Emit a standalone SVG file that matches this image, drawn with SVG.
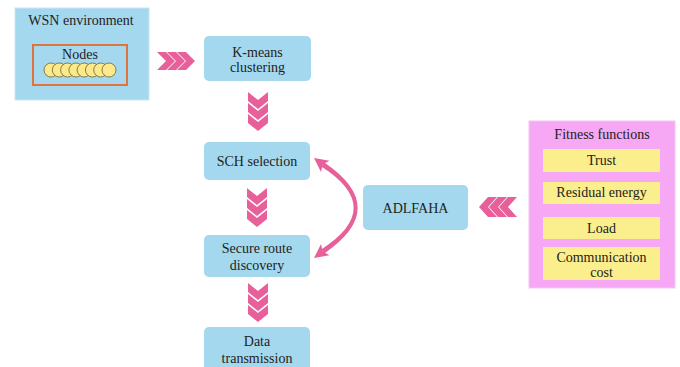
<svg xmlns="http://www.w3.org/2000/svg" width="680" height="367" viewBox="0 0 680 367">
<defs>
<style>
.t{font-family:"Liberation Serif","Times New Roman",serif;font-size:14px;fill:#222;text-anchor:middle}
.blue{fill:#A4D8EE}
.pink{fill:#E8609A}
.yel{fill:#FBEE8C}
.dot{fill:#FBE98A;stroke:#6E6234;stroke-width:0.8}
</style>
<polygon id="chevR" points="0,0 9,0 18,9 9,18 0,18 9,9"/>
<polygon id="chevD" points="0,0 10,8 20,0 20,9 10,17 0,9"/>
<polygon id="chevL" points="18,0 9,0 0,10 9,20 18,20 9,10"/>
</defs>
<rect width="680" height="367" fill="#fff"/>

<g id="wsn">
<rect x="15" y="8" width="134" height="92" class="blue" stroke="#C8E8F4" stroke-width="1"/>
<text x="81" y="25" class="t">WSN environment</text>
<rect x="33" y="45" width="94" height="40" fill="none" stroke="#E0733A" stroke-width="2"/>
<text x="80" y="59" class="t">Nodes</text>
<circle cx="51" cy="70" r="7" class="dot"/>
<circle cx="59.3" cy="70" r="7" class="dot"/>
<circle cx="67.6" cy="70" r="7" class="dot"/>
<circle cx="75.9" cy="70" r="7" class="dot"/>
<circle cx="84.1" cy="70" r="7" class="dot"/>
<circle cx="92.4" cy="70" r="7" class="dot"/>
<circle cx="100.7" cy="70" r="7" class="dot"/>
<circle cx="109" cy="70" r="7" class="dot"/>
</g>

<g id="kmeans">
<rect x="204" y="36" width="107" height="45" rx="5" class="blue"/>
<text x="257.5" y="56.5" class="t">K-means</text>
<text x="257.5" y="71.5" class="t">clustering</text>
</g>

<g id="sch">
<rect x="204" y="142" width="106" height="38" rx="5" class="blue"/>
<text x="257" y="166" class="t">SCH selection</text>
</g>

<g id="secure">
<rect x="204" y="235" width="106" height="42" rx="5" class="blue"/>
<text x="257" y="253" class="t">Secure route</text>
<text x="257" y="270" class="t">discovery</text>
</g>

<g id="data">
<rect x="204" y="327" width="106" height="50" rx="5" class="blue"/>
<text x="257" y="346" class="t">Data</text>
<text x="257" y="363" class="t">transmission</text>
</g>

<g id="adlfaha">
<rect x="363" y="185" width="105" height="45" rx="5" class="blue"/>
<text x="415.5" y="213" class="t">ADLFAHA</text>
</g>

<g id="fitness">
<rect x="529" y="121" width="146" height="167" fill="#F6A8F4" stroke="#F2C6F0" stroke-width="1"/>
<text x="602" y="139" class="t">Fitness functions</text>
<rect x="543" y="149" width="117" height="23" class="yel"/>
<text x="601.5" y="165" class="t">Trust</text>
<rect x="543" y="182" width="117" height="22" class="yel"/>
<text x="601.5" y="197" class="t">Residual energy</text>
<rect x="543" y="217" width="117" height="22" class="yel"/>
<text x="601.5" y="233" class="t">Load</text>
<rect x="543" y="247" width="117" height="33" class="yel"/>
<text x="601.5" y="262" class="t">Communication</text>
<text x="601.5" y="277" class="t">cost</text>
</g>

<g id="connectors" class="pink">
<use href="#chevR" x="157" y="52"/>
<use href="#chevR" x="167" y="52"/>
<use href="#chevR" x="177" y="52"/>
<use href="#chevD" x="248" y="92"/>
<use href="#chevD" x="248" y="103"/>
<use href="#chevD" x="248" y="114"/>
<use href="#chevD" x="247" y="188"/>
<use href="#chevD" x="247" y="199"/>
<use href="#chevD" x="247" y="210"/>
<use href="#chevD" x="248" y="283"/>
<use href="#chevD" x="248" y="294"/>
<use href="#chevD" x="248" y="305"/>
<use href="#chevL" x="479" y="197"/>
<use href="#chevL" x="489" y="197"/>
<use href="#chevL" x="499" y="197"/>
<path d="M321.3,166.6 Q386,208 321.3,249.4 L324.3,253.4 Q391,208 324.3,162.6 Z"/>
<polygon points="314,158 329.4,160.8 322.8,164.6 321,172"/>
<polygon points="314,258 329.4,255.2 322.8,251.4 321,244"/>
</g>
</svg>
